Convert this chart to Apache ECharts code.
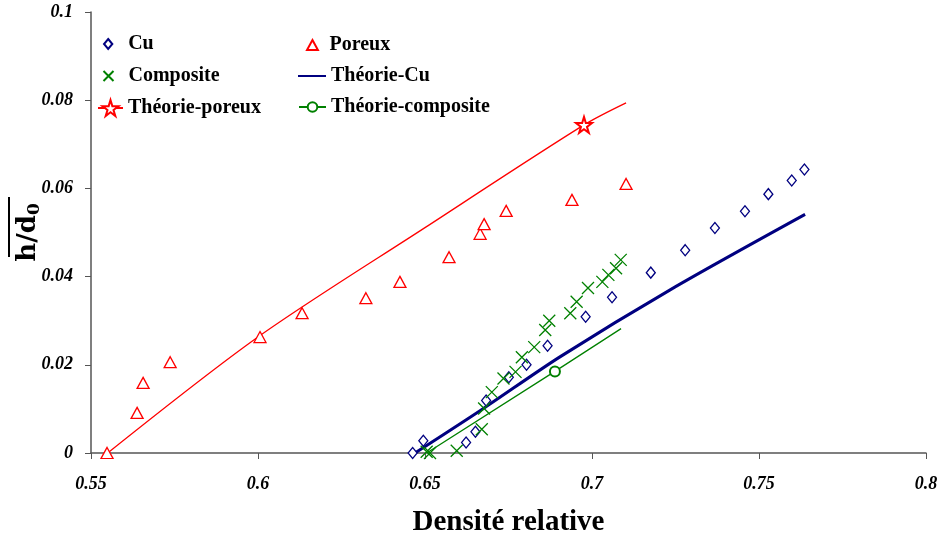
<!DOCTYPE html>
<html>
<head>
<meta charset="utf-8">
<script src="https://cdn.jsdelivr.net/npm/echarts@6/dist/echarts.min.js"></script>
<style>
  html, body { margin: 0; padding: 0; background: #fff; }
  #chart { width: 937px; height: 535px; }
</style>
</head>
<body>
<div id="chart"></div>
<script>
// measured points
const cuX = [0.6463, 0.6495, 0.6623, 0.6651, 0.6683, 0.6751, 0.6804, 0.6867, 0.6981, 0.7060, 0.7176, 0.7279, 0.7368, 0.7458, 0.7528, 0.7598, 0.7636];
const cuY = [0.0000, 0.0028, 0.0024, 0.0048, 0.0119, 0.0172, 0.0200, 0.0243, 0.0309, 0.0353, 0.0409, 0.0460, 0.0510, 0.0548, 0.0587, 0.0618, 0.0643];

const porX = [0.5548, 0.5638, 0.5656, 0.5737, 0.6006, 0.6132, 0.6323, 0.6425, 0.6572, 0.6665, 0.6677, 0.6743, 0.6940, 0.7102];
const porY = [0.0000, 0.0091, 0.0159, 0.0206, 0.0263, 0.0317, 0.0351, 0.0388, 0.0444, 0.0497, 0.0519, 0.0549, 0.0574, 0.0610];

const compX = [0.6505, 0.6515, 0.6595, 0.6670, 0.6677, 0.6700, 0.6735, 0.6771, 0.6790, 0.6827, 0.6860, 0.6872, 0.6935, 0.6954, 0.6988, 0.7031, 0.7049, 0.7072, 0.7086];
const compY = [0.0003, 0.0000, 0.0005, 0.0054, 0.0101, 0.0138, 0.0169, 0.0184, 0.0217, 0.0240, 0.0279, 0.0300, 0.0317, 0.0343, 0.0374, 0.0388, 0.0404, 0.0419, 0.0438];

// theory curves
const thCuX = [0.6470, 0.6675, 0.6904, 0.7234, 0.7638];
const thCuY = [0.0000, 0.0101, 0.0218, 0.0370, 0.0541];

const thPorX = [0.5550, 0.6000, 0.6500, 0.6976, 0.7102];
const thPorY = [0.0000, 0.0263, 0.0511, 0.0744, 0.0794];
const thPorMark = 3; // index with the star

const thCompX = [0.6505, 0.6889, 0.7087];
const thCompY = [0.0000, 0.0185, 0.0282];
const thCompMark = 1; // index with the circle

const xTicks = { min: 0.55, max: 0.8, step: 0.05 };
const yTicks = { min: 0, max: 0.1, step: 0.02 };

const RED = '#ff0000';
const NAVY = '#000080';
const GREEN = '#008000';
const FONT = 'Liberation Serif';
const STAR = 'path://M50,0 L61,35 L98,35 L68,57 L79,91 L50,70 L21,91 L32,57 L2,35 L39,35 Z';
const CROSS = 'path://M0,0 L10,10 M10,0 L0,10';
const DIAMOND = 'path://M5,0 L10,6 L5,12 L0,6 Z';
const TRIANGLE = 'path://M6,0 L12,11 L0,11 Z';

function pairs(xs, ys) {
  return xs.map((x, i) => [x, ys[i]]);
}
function markedPairs(xs, ys, mark) {
  return xs.map((x, i) => (i === mark ? [x, ys[i]] : { value: [x, ys[i]], symbol: 'none' }));
}

const chart = echarts.init(document.getElementById('chart'));

const legendText = {
  fontFamily: FONT,
  fontWeight: 'bold',
  fontSize: 20,
  color: '#000',
};

// one legend per entry so each icon gets its own size
function legendItem(name, left, top, w, h, extra) {
  return {
    data: [Object.assign({ name: name }, extra || {})],
    left: left,
    top: top,
    itemWidth: w,
    itemHeight: h,
    padding: 0,
    textStyle: legendText,
  };
}

const option = {
  animation: false,
  backgroundColor: '#fff',
  grid: {
    left: 91,
    right: 11,
    top: 12,
    bottom: 82,
    outerBoundsMode: 'none',
  },
  legend: [
    legendItem('Cu', 103, 34, 30, 10),
    legendItem('Composite', 101, 66, 30, 10),
    legendItem('Théorie-poreux', 97, 98, 25, 20),
    legendItem('Poreux', 306, 35, 24, 10),
    legendItem('Théorie-Cu', 297, 66, 28, 10, { itemStyle: { color: 'rgba(0,0,0,0)', borderWidth: 0 } }),
    legendItem('Théorie-composite', 298, 97, 27, 12),
  ],
  xAxis: {
    type: 'value',
    min: xTicks.min,
    max: xTicks.max,
    interval: xTicks.step,
    name: 'Densité relative',
    nameLocation: 'middle',
    nameGap: 55,
    nameMoveOverlap: false,
    nameTextStyle: {
      fontFamily: FONT,
      fontWeight: 'bold',
      fontSize: 29,
      color: '#000',
    },
    axisLine: { lineStyle: { color: '#555', width: 1.5 } },
    axisTick: { show: true, length: 6, lineStyle: { color: '#555' } },
    axisLabel: {
      margin: 22,
      fontFamily: FONT,
      fontWeight: 'bold',
      fontStyle: 'italic',
      fontSize: 18,
      color: '#000',
    },
    splitLine: { show: false },
  },
  yAxis: {
    type: 'value',
    min: yTicks.min,
    max: yTicks.max,
    interval: yTicks.step,
    name: '{a|h/d}{b|0}',
    nameLocation: 'middle',
    nameGap: 48,
    nameMoveOverlap: false,
    nameRotate: 90,
    nameTextStyle: {
      rich: {
        a: { fontFamily: 'DejaVu Serif', fontWeight: 'bold', fontSize: 26, color: '#000' },
        b: { fontFamily: 'DejaVu Serif', fontWeight: 'bold', fontSize: 17, color: '#000', padding: [12, 0, 0, 0] },
      },
    },
    axisLine: { show: true, lineStyle: { color: '#555', width: 1.5 } },
    axisTick: { show: true, length: 6, lineStyle: { color: '#555' } },
    axisLabel: {
      margin: 18,
      fontFamily: FONT,
      fontWeight: 'bold',
      fontStyle: 'italic',
      fontSize: 18,
      color: '#000',
    },
    splitLine: { show: false },
  },
  graphic: [
    {
      // overline of h/d0
      type: 'line',
      shape: { x1: 9, y1: 197, x2: 9, y2: 257 },
      style: { stroke: '#000', lineWidth: 2 },
    },
  ],
  series: [
    {
      name: 'Théorie-poreux',
      type: 'line',
      data: markedPairs(thPorX, thPorY, thPorMark),
      symbol: STAR,
      symbolSize: 16,
      smooth: 0.3,
      lineStyle: { color: RED, width: 1.3 },
      itemStyle: { color: '#fff', borderColor: RED, borderWidth: 2 },
      z: 2,
    },
    {
      name: 'Théorie-Cu',
      type: 'line',
      data: pairs(thCuX, thCuY),
      symbol: 'none',
      smooth: 0.3,
      lineStyle: { color: NAVY, width: 3 },
      itemStyle: { color: NAVY },
      z: 2,
    },
    {
      name: 'Théorie-composite',
      type: 'line',
      data: markedPairs(thCompX, thCompY, thCompMark),
      symbol: 'circle',
      symbolSize: 10,
      lineStyle: { color: GREEN, width: 1.3 },
      itemStyle: { color: '#fff', borderColor: GREEN, borderWidth: 2 },
      z: 2,
    },
    {
      name: 'Cu',
      type: 'scatter',
      data: pairs(cuX, cuY),
      symbol: DIAMOND,
      symbolSize: [9, 11],
      itemStyle: { color: '#fff', borderColor: NAVY, borderWidth: 1.3, opacity: 1 },
      z: 3,
    },
    {
      name: 'Poreux',
      type: 'scatter',
      data: pairs(porX, porY),
      symbol: TRIANGLE,
      symbolSize: [12, 11],
      itemStyle: { color: '#fff', borderColor: RED, borderWidth: 1.3, opacity: 1 },
      z: 3,
    },
    {
      name: 'Composite',
      type: 'scatter',
      data: pairs(compX, compY),
      symbol: CROSS,
      symbolSize: 12,
      itemStyle: { color: 'none', borderColor: GREEN, borderWidth: 1.3, opacity: 1 },
      z: 3,
    },
  ],
};

chart.setOption(option);
</script>
</body>
</html>
